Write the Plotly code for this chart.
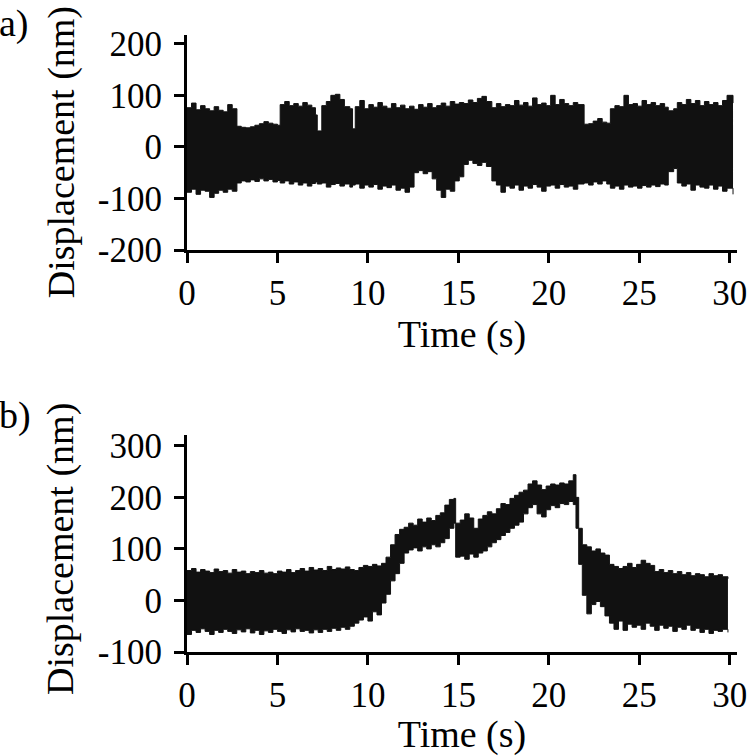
import plotly.graph_objects as go

# ── Panel a: displacement envelope (nm) vs time (s) ──────────────────────────
time_a = [
    0.0, 0.25, 0.5, 0.75, 1.0, 1.25, 1.5, 1.75, 2.0, 2.25, 2.5, 2.76,
    3.0, 3.25, 3.5, 3.75, 4.0, 4.25, 4.5, 4.75, 5.0, 5.15, 5.4, 5.65,
    5.9, 6.15, 6.4, 6.65, 6.9, 7.1, 7.2, 7.45, 7.7, 7.95, 8.2, 8.45,
    8.7, 9.0, 9.15, 9.3, 9.55, 9.8, 10.05, 10.3, 10.55, 10.8, 11.05, 11.3,
    11.55, 11.8, 12.05, 12.3, 12.55, 12.8, 13.05, 13.3, 13.55, 13.8, 14.05, 14.3,
    14.55, 14.8, 15.05, 15.3, 15.55, 15.8, 16.05, 16.3, 16.55, 16.85, 17.1, 17.35,
    17.6, 17.85, 18.1, 18.35, 18.6, 18.85, 19.1, 19.35, 19.6, 19.85, 20.1, 20.35,
    20.6, 20.85, 21.1, 21.35, 21.6, 21.95, 22.2, 22.45, 22.7, 22.95, 23.2, 23.4,
    23.65, 23.9, 24.15, 24.4, 24.65, 24.9, 25.15, 25.4, 25.65, 25.9, 26.15, 26.4,
    26.6, 26.9, 27.1, 27.35, 27.6, 27.85, 28.1, 28.35, 28.6, 28.85, 29.1, 29.35,
    29.6, 29.85, 30.18,
]
upper_a = [
    76, 85, 72, 80, 74, 70, 78, 71, 68, 82, 74, 40,
    38, 37, 39, 42, 45, 49, 46, 44, 42, 82, 88, 80,
    84, 79, 86, 81, 76, 62, 31, 80, 88, 100, 102, 92,
    78, 74, 35, 78, 90, 74, 82, 77, 86, 79, 75, 84,
    76, 81, 74, 79, 73, 82, 77, 84, 76, 80, 85, 79,
    88, 83, 86, 84, 91, 86, 94, 98, 88, 76, 84, 78,
    82, 80, 90, 81, 86, 79, 95, 82, 85, 80, 100, 82,
    92, 84, 80, 86, 82, 44, 45, 50, 55, 48, 46, 74,
    80, 78, 100, 82, 84, 79, 90, 82, 86, 80, 84, 77,
    70, 74, 86, 82, 92, 84, 90, 80, 88, 82, 86, 80,
    90, 100, 85,
]
lower_a = [
    -88, -82, -92, -84, -86, -98, -90, -84, -88, -82, -86, -70,
    -66, -68, -64, -67, -62, -66, -63, -68, -65, -70, -66, -72,
    -68, -74, -70, -76, -71, -68, -72, -70, -78, -73, -71, -76,
    -72, -78, -74, -72, -80, -74, -78, -73, -82, -76, -79, -74,
    -84, -80, -88, -78, -50, -46, -52, -48, -62, -84, -98, -82,
    -86, -66, -58, -34, -26, -32, -36, -30, -38, -66, -74, -88,
    -76, -80, -74, -84, -76, -80, -73, -78, -86, -76, -74, -80,
    -73, -78, -76, -82, -72, -70, -74, -68, -72, -66, -72, -80,
    -76, -82, -74, -78, -76, -80, -75, -78, -74, -77, -72, -74,
    -48, -42, -70, -76, -72, -84, -74, -78, -80, -74, -82, -76,
    -86, -80, -92,
]

# ── Panel b ───────────────────────────────────────────────────────────────────
time_b = [
    0.0, 0.25, 0.5, 0.75, 1.0, 1.25, 1.5, 1.75, 2.0, 2.25, 2.5, 2.75,
    3.0, 3.25, 3.5, 3.75, 4.0, 4.25, 4.5, 4.75, 5.0, 5.25, 5.5, 5.75,
    6.0, 6.25, 6.5, 6.75, 7.0, 7.25, 7.5, 7.75, 8.0, 8.25, 8.5, 8.75,
    9.0, 9.25, 9.5, 9.75, 10.0, 10.25, 10.5, 10.75, 11.0, 11.25, 11.5, 11.75,
    12.0, 12.25, 12.5, 12.75, 13.0, 13.25, 13.5, 13.75, 14.0, 14.25, 14.5, 14.75,
    14.85, 15.1, 15.35, 15.6, 15.85, 16.1, 16.35, 16.6, 16.85, 17.1, 17.35, 17.6,
    17.85, 18.1, 18.35, 18.6, 18.85, 19.1, 19.35, 19.6, 19.85, 20.1, 20.35, 20.6,
    20.85, 21.1, 21.35, 21.5, 21.65, 21.85, 22.1, 22.35, 22.6, 22.85, 23.1, 23.35,
    23.6, 23.85, 24.1, 24.35, 24.6, 24.85, 25.1, 25.35, 25.6, 25.85, 26.1, 26.35,
    26.6, 26.85, 27.1, 27.35, 27.6, 27.85, 28.1, 28.35, 28.6, 28.85, 29.1, 29.35,
    29.6, 29.9,
]
upper_b = [
    58, 62, 55, 60, 57, 54, 61, 56, 58, 53, 60, 55,
    57, 52, 56, 54, 58, 53, 55, 52, 57, 55, 60, 54,
    58, 62, 57, 64, 59, 62, 58, 66, 60, 63, 61, 65,
    60, 58, 64, 68, 66, 70, 67, 72, 84, 108, 128, 138,
    142, 150, 146, 158, 152, 160, 155, 165, 170, 185, 196, 198,
    150, 156, 168, 160, 140, 158, 165, 172, 168, 178, 188, 186,
    198, 204, 210, 214, 226, 232, 224, 215, 222, 226, 224, 228,
    226, 232, 244, 200, 140, 108, 104, 96, 100, 92, 88, 70,
    66, 62, 66, 72, 64, 70, 78, 72, 68, 56, 60, 54,
    58, 52, 56, 50, 54, 48, 52, 50, 46, 52, 48, 50,
    46, 42,
]
lower_b = [
    -66, -58, -62, -55, -60, -66, -58, -62, -56, -60, -64, -57,
    -61, -55, -63, -58, -66, -59, -62, -56, -60, -64, -57, -61,
    -55, -60, -58, -63, -57, -62, -56, -60, -54, -58, -52, -56,
    -50, -44, -38, -32, -40, -22, -28, -5, 12, 38, 52, 72,
    92, 98, 102, 96, 104, 100, 108, 104, 112, 120, 140, 150,
    84, 86, 80, 90, 84, 92, 96, 104, 112, 118, 126, 132,
    140, 146, 152, 168, 180, 186, 168, 162, 176, 184, 180, 188,
    186, 192, 186, 140, 70, 10, -26, -8, -2, -12, -30, -44,
    -56, -40, -58, -46, -52, -48, -56, -44, -50, -58, -48, -54,
    -50, -60, -52, -56, -48, -58, -54, -62, -56, -64, -58, -60,
    -56, -62,
]

# ── Axes ticks ────────────────────────────────────────────────────────────────
x_ticks = [0, 5, 10, 15, 20, 25, 30]
y_ticks_a = [-200, -100, 0, 100, 200]
y_labels_a = ["-200", "-100", "0", "100", "200"]
y_ticks_b = [-100, 0, 100, 200, 300]
y_labels_b = ["-100", "0", "100", "200", "300"]

INK = "#111111"
FONT = "Liberation Serif, Times New Roman, serif"

fig = go.Figure()


def add_band(t, lo, hi, xa, ya):
    fig.add_trace(go.Scatter(x=t, y=lo, mode="lines", line=dict(color=INK, width=1, shape="hv"),
                             xaxis=xa, yaxis=ya, showlegend=False, hoverinfo="skip"))
    fig.add_trace(go.Scatter(x=t, y=hi, mode="lines", line=dict(color=INK, width=1, shape="hv"),
                             fill="tonexty", fillcolor=INK,
                             xaxis=xa, yaxis=ya, showlegend=False, hoverinfo="skip"))


add_band(time_a, lower_a, upper_a, "x", "y")
add_band(time_b, lower_b, upper_b, "x2", "y2")

axis_style = dict(
    showline=True, linecolor="black", linewidth=3,
    ticks="outside", ticklen=10, tickwidth=3, tickcolor="black",
    showgrid=False, zeroline=False, automargin=False,
    tickfont=dict(family=FONT, size=35, color="black"),
)
title_font = dict(family=FONT, size=38, color="black")


def label(text, x, y, **kw):
    return dict(text=text, x=x, y=y, xref="paper", yref="paper",
                showarrow=False, font=title_font, **kw)


fig.update_layout(
    width=750, height=756,
    paper_bgcolor="white", plot_bgcolor="white",
    margin=dict(l=187, r=13, t=35, b=104),
    xaxis=dict(domain=[0, 1], anchor="y", range=[0, 30.4], tickvals=x_ticks,
               title=dict(text="Time (s)", font=title_font, standoff=2), **axis_style),
    yaxis=dict(domain=[0.6515, 1], anchor="x", range=[-200, 217],
               tickvals=y_ticks_a, ticktext=y_labels_a, ticklabelstandoff=5, **axis_style),
    xaxis2=dict(domain=[0, 1], anchor="y2", range=[0, 30.4], tickvals=x_ticks,
                title=dict(text="Time (s)", font=title_font, standoff=2), **axis_style),
    yaxis2=dict(domain=[0, 0.3517], anchor="x2", range=[-100, 321],
                tickvals=y_ticks_b, ticktext=y_labels_b, ticklabelstandoff=5, **axis_style),
    annotations=[
        label("Displacement (nm)", -0.229, 0.810, textangle=-90,
              xanchor="center", yanchor="middle"),
        label("Displacement (nm)", -0.229, 0.167, textangle=-90,
              xanchor="center", yanchor="middle"),
        label("a)", -0.345, 1.056, xanchor="left", yanchor="top"),
        label("b)", -0.345, 0.384, xanchor="left", yanchor="middle"),
    ],
)

# drop the browser's default 8px body margin so the figure sits at the corner
fig.write_html("out.html", config={"displayModeBar": False},
               post_script="document.body.style.margin='0';")
